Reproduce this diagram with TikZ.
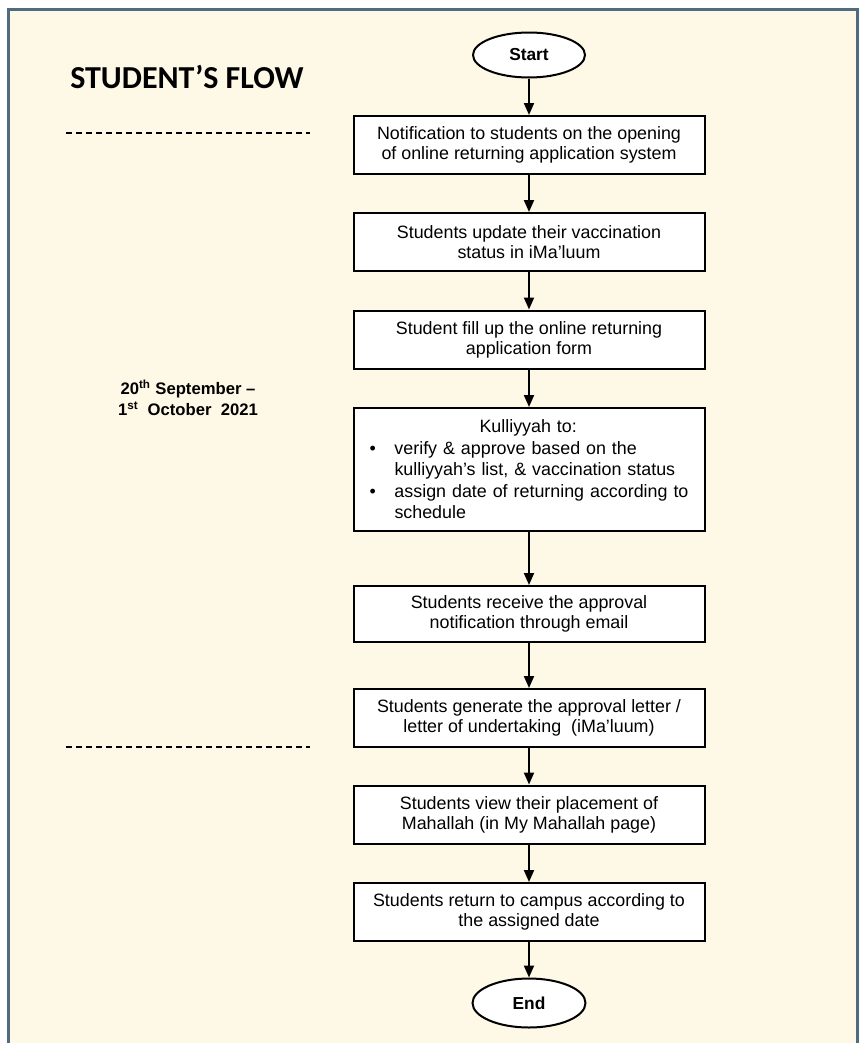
\documentclass[tikz,border=0pt]{standalone}
\usepackage{fontspec}
\setmainfont{Liberation Sans}
\newfontfamily\titlefont{Carlito}
\usetikzlibrary{shapes.geometric,arrows.meta}
\definecolor{cream}{HTML}{FEF8E7}
\definecolor{framecol}{HTML}{4E6B80}
\begin{document}
\begin{tikzpicture}[x=0.75pt,y=-0.75pt,
 stepbox/.style={draw=black,line width=1.5pt,fill=white,minimum width=263.25pt,minimum height=43.5pt,align=center,inner sep=0pt,font=\fontsize{13.4pt}{15pt}\selectfont},
 term/.style={ellipse,draw=black,line width=1.5pt,fill=white,inner sep=0pt,font=\bfseries\fontsize{13pt}{15pt}\selectfont},
 flow/.style={-{Triangle[length=9pt,width=7.5pt]},line width=1.5pt},
 sepline/.style={dash pattern=on 4.5pt off 3pt,line width=2pt}]
\useasboundingbox (0,0) rectangle (861,1043);
\fill[white] (0,0) rectangle (861,1043);
\fill[cream] (8,9) rectangle (857,1043);
\draw[framecol,line width=2.25pt] (8,1043) -- (8,9) -- (857,9) -- (857,1043);

\node[font=\titlefont\bfseries\fontsize{24pt}{28pt}\selectfont,anchor=west,inner sep=0pt] (title) at (70,77) {STUDENT’S FLOW};

\node[term,minimum width=84pt,minimum height=33.75pt] (start) at (529,55) {Start};
\node[stepbox] (b1) at (529,145) {Notification to students on the opening\\of online returning application system};
\node[stepbox] (b2) at (529,242) {Students update their vaccination\\status in iMa’luum};
\node[stepbox] (b3) at (529,339.5) {Student fill up the online returning\\application form};
\node[stepbox,minimum height=92.25pt,text width=239.25pt,align=left,inner xsep=12pt,font=\fontsize{13.4pt}{16.1pt}\selectfont] (b4) at (529,469.5) {\hspace*{82.5pt}Kulliyyah to:\\
\makebox[18.75pt][l]{\textbullet}verify \& approve based on the\\
\hspace*{18.75pt}kulliyyah’s list, \& vaccination status\\
\makebox[18.75pt][l]{\textbullet}assign date of returning according to\\
\hspace*{18.75pt}schedule};
\node[stepbox,minimum height=42pt] (b5) at (529,614) {Students receive the approval\\notification through email};
\node[stepbox] (b6) at (529,718) {Students generate the approval letter /\\letter of undertaking \ (iMa’luum)};
\node[stepbox] (b7) at (529,814.5) {Students view their placement of\\Mahallah (in My Mahallah page)};
\node[stepbox] (b8) at (529,912) {Students return to campus according to\\the assigned date};
\node[term,minimum width=84.75pt,minimum height=36.75pt] (end) at (529,1003) {End};

\draw[flow] (start) -- (b1);
\draw[flow] (b1) -- (b2);
\draw[flow] (b2) -- (b3);
\draw[flow] (b3) -- (b4);
\draw[flow] (b4) -- (b5);
\draw[flow] (b5) -- (b6);
\draw[flow] (b6) -- (b7);
\draw[flow] (b7) -- (b8);
\draw[flow] (b8) -- (end);

\coordinate (d1a) at (66,133);
\coordinate (d1b) at (310,133);
\coordinate (d2a) at (66,747);
\coordinate (d2b) at (310,747);
\draw[sepline] (d1a) -- (d1b);
\draw[sepline] (d2a) -- (d2b);

\node[font=\bfseries\fontsize{12.5pt}{15.75pt}\selectfont,align=center] (date) at (188,398) {20\textsuperscript{th} September –\\1\textsuperscript{st}\ \ October\ \ 2021};
\end{tikzpicture}
\end{document}
